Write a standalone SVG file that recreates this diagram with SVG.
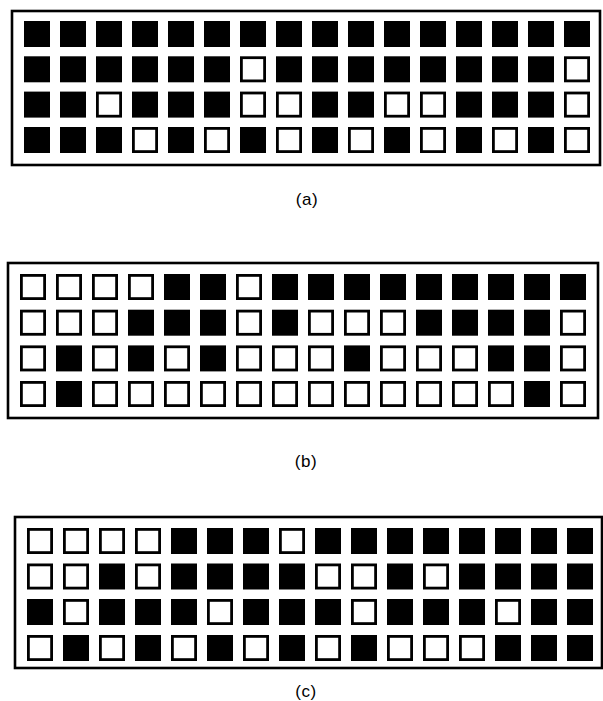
<svg xmlns="http://www.w3.org/2000/svg" width="603" height="701" viewBox="0 0 603 701">
<style>
.frame{fill:#fff;stroke:#000;stroke-width:2.6}
.f{fill:#000}
.e{fill:#fff;stroke:#000;stroke-width:2.8}
.lbl{font-family:"Liberation Sans",Arial,sans-serif;font-size:17px;fill:#000;text-anchor:middle;letter-spacing:0.5px}
</style>
<defs>
<rect id="F" class="f" width="26" height="26"/>
<rect id="E" class="e" x="1.4" y="1.4" width="23.2" height="23.2"/>
</defs>
<rect width="603" height="701" fill="#fff"/>
<g id="connectors"></g>

<g id="panel-a">
<rect class="frame" x="12" y="11" width="588" height="154"/>
<g transform="translate(24,21)">
<use href="#F" x="0" y="0"/><use href="#F" x="36" y="0"/><use href="#F" x="72" y="0"/><use href="#F" x="108" y="0"/><use href="#F" x="144" y="0"/><use href="#F" x="180" y="0"/><use href="#F" x="216" y="0"/><use href="#F" x="252" y="0"/><use href="#F" x="288" y="0"/><use href="#F" x="324" y="0"/><use href="#F" x="360" y="0"/><use href="#F" x="396" y="0"/><use href="#F" x="432" y="0"/><use href="#F" x="468" y="0"/><use href="#F" x="504" y="0"/><use href="#F" x="540" y="0"/>
<use href="#F" x="0" y="35.3"/><use href="#F" x="36" y="35.3"/><use href="#F" x="72" y="35.3"/><use href="#F" x="108" y="35.3"/><use href="#F" x="144" y="35.3"/><use href="#F" x="180" y="35.3"/><use href="#E" x="216" y="35.3"/><use href="#F" x="252" y="35.3"/><use href="#F" x="288" y="35.3"/><use href="#F" x="324" y="35.3"/><use href="#F" x="360" y="35.3"/><use href="#F" x="396" y="35.3"/><use href="#F" x="432" y="35.3"/><use href="#F" x="468" y="35.3"/><use href="#F" x="504" y="35.3"/><use href="#E" x="540" y="35.3"/>
<use href="#F" x="0" y="70.6"/><use href="#F" x="36" y="70.6"/><use href="#E" x="72" y="70.6"/><use href="#F" x="108" y="70.6"/><use href="#F" x="144" y="70.6"/><use href="#F" x="180" y="70.6"/><use href="#E" x="216" y="70.6"/><use href="#E" x="252" y="70.6"/><use href="#F" x="288" y="70.6"/><use href="#F" x="324" y="70.6"/><use href="#E" x="360" y="70.6"/><use href="#E" x="396" y="70.6"/><use href="#F" x="432" y="70.6"/><use href="#F" x="468" y="70.6"/><use href="#F" x="504" y="70.6"/><use href="#E" x="540" y="70.6"/>
<use href="#F" x="0" y="106"/><use href="#F" x="36" y="106"/><use href="#F" x="72" y="106"/><use href="#E" x="108" y="106"/><use href="#F" x="144" y="106"/><use href="#E" x="180" y="106"/><use href="#F" x="216" y="106"/><use href="#E" x="252" y="106"/><use href="#F" x="288" y="106"/><use href="#E" x="324" y="106"/><use href="#F" x="360" y="106"/><use href="#E" x="396" y="106"/><use href="#F" x="432" y="106"/><use href="#E" x="468" y="106"/><use href="#F" x="504" y="106"/><use href="#E" x="540" y="106"/>
</g>
<text class="lbl" x="307" y="205">(a)</text>
</g>

<g id="panel-b">
<rect class="frame" x="8" y="263" width="590" height="155"/>
<g transform="translate(20,274)">
<use href="#E" x="0" y="0"/><use href="#E" x="36" y="0"/><use href="#E" x="72" y="0"/><use href="#E" x="108" y="0"/><use href="#F" x="144" y="0"/><use href="#F" x="180" y="0"/><use href="#E" x="216" y="0"/><use href="#F" x="252" y="0"/><use href="#F" x="288" y="0"/><use href="#F" x="324" y="0"/><use href="#F" x="360" y="0"/><use href="#F" x="396" y="0"/><use href="#F" x="432" y="0"/><use href="#F" x="468" y="0"/><use href="#F" x="504" y="0"/><use href="#F" x="540" y="0"/>
<use href="#E" x="0" y="35.7"/><use href="#E" x="36" y="35.7"/><use href="#E" x="72" y="35.7"/><use href="#F" x="108" y="35.7"/><use href="#F" x="144" y="35.7"/><use href="#F" x="180" y="35.7"/><use href="#E" x="216" y="35.7"/><use href="#F" x="252" y="35.7"/><use href="#E" x="288" y="35.7"/><use href="#E" x="324" y="35.7"/><use href="#E" x="360" y="35.7"/><use href="#F" x="396" y="35.7"/><use href="#F" x="432" y="35.7"/><use href="#F" x="468" y="35.7"/><use href="#F" x="504" y="35.7"/><use href="#E" x="540" y="35.7"/>
<use href="#E" x="0" y="71.4"/><use href="#F" x="36" y="71.4"/><use href="#E" x="72" y="71.4"/><use href="#F" x="108" y="71.4"/><use href="#E" x="144" y="71.4"/><use href="#F" x="180" y="71.4"/><use href="#E" x="216" y="71.4"/><use href="#E" x="252" y="71.4"/><use href="#E" x="288" y="71.4"/><use href="#F" x="324" y="71.4"/><use href="#E" x="360" y="71.4"/><use href="#E" x="396" y="71.4"/><use href="#E" x="432" y="71.4"/><use href="#F" x="468" y="71.4"/><use href="#F" x="504" y="71.4"/><use href="#E" x="540" y="71.4"/>
<use href="#E" x="0" y="107"/><use href="#F" x="36" y="107"/><use href="#E" x="72" y="107"/><use href="#E" x="108" y="107"/><use href="#E" x="144" y="107"/><use href="#E" x="180" y="107"/><use href="#E" x="216" y="107"/><use href="#E" x="252" y="107"/><use href="#E" x="288" y="107"/><use href="#E" x="324" y="107"/><use href="#E" x="360" y="107"/><use href="#E" x="396" y="107"/><use href="#E" x="432" y="107"/><use href="#E" x="468" y="107"/><use href="#F" x="504" y="107"/><use href="#E" x="540" y="107"/>
</g>
<text class="lbl" x="306" y="467">(b)</text>
</g>

<g id="panel-c">
<rect class="frame" x="15" y="517" width="587" height="151"/>
<g transform="translate(27,528)">
<use href="#E" x="0" y="0"/><use href="#E" x="36" y="0"/><use href="#E" x="72" y="0"/><use href="#E" x="108" y="0"/><use href="#F" x="144" y="0"/><use href="#F" x="180" y="0"/><use href="#F" x="216" y="0"/><use href="#E" x="252" y="0"/><use href="#F" x="288" y="0"/><use href="#F" x="324" y="0"/><use href="#F" x="360" y="0"/><use href="#F" x="396" y="0"/><use href="#F" x="432" y="0"/><use href="#F" x="468" y="0"/><use href="#F" x="504" y="0"/><use href="#F" x="540" y="0"/>
<use href="#E" x="0" y="35.5"/><use href="#E" x="36" y="35.5"/><use href="#F" x="72" y="35.5"/><use href="#E" x="108" y="35.5"/><use href="#F" x="144" y="35.5"/><use href="#F" x="180" y="35.5"/><use href="#F" x="216" y="35.5"/><use href="#F" x="252" y="35.5"/><use href="#E" x="288" y="35.5"/><use href="#E" x="324" y="35.5"/><use href="#F" x="360" y="35.5"/><use href="#E" x="396" y="35.5"/><use href="#F" x="432" y="35.5"/><use href="#F" x="468" y="35.5"/><use href="#F" x="504" y="35.5"/><use href="#F" x="540" y="35.5"/>
<use href="#F" x="0" y="71"/><use href="#E" x="36" y="71"/><use href="#F" x="72" y="71"/><use href="#F" x="108" y="71"/><use href="#F" x="144" y="71"/><use href="#E" x="180" y="71"/><use href="#F" x="216" y="71"/><use href="#F" x="252" y="71"/><use href="#F" x="288" y="71"/><use href="#E" x="324" y="71"/><use href="#F" x="360" y="71"/><use href="#F" x="396" y="71"/><use href="#F" x="432" y="71"/><use href="#E" x="468" y="71"/><use href="#F" x="504" y="71"/><use href="#F" x="540" y="71"/>
<use href="#E" x="0" y="107"/><use href="#F" x="36" y="107"/><use href="#E" x="72" y="107"/><use href="#F" x="108" y="107"/><use href="#E" x="144" y="107"/><use href="#F" x="180" y="107"/><use href="#E" x="216" y="107"/><use href="#F" x="252" y="107"/><use href="#E" x="288" y="107"/><use href="#F" x="324" y="107"/><use href="#E" x="360" y="107"/><use href="#E" x="396" y="107"/><use href="#E" x="432" y="107"/><use href="#F" x="468" y="107"/><use href="#F" x="504" y="107"/><use href="#F" x="540" y="107"/>
</g>
<text class="lbl" x="306" y="697">(c)</text>
</g>
</svg>
